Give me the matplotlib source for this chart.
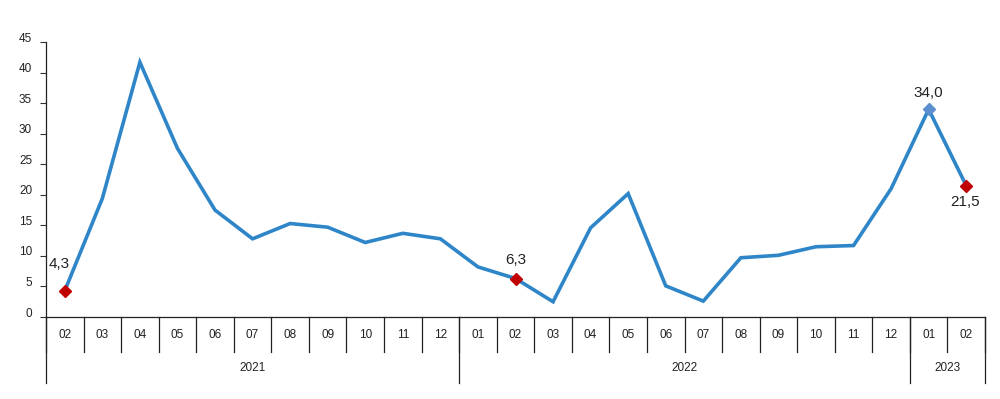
import matplotlib
matplotlib.use("Agg")
import matplotlib.pyplot as plt
import matplotlib.transforms as mtransforms

plt.rcParams['font.family'] = ['Liberation Sans', 'DejaVu Sans']

months = ["02", "03", "04", "05", "06", "07", "08", "09", "10", "11", "12",
          "01", "02", "03", "04", "05", "06", "07", "08", "09", "10", "11", "12",
          "01", "02"]
years = ["2021", "2022", "2023"]
year_counts = [11, 12, 2]
values = [4.3, 19.4, 41.7, 27.6, 17.5, 12.8, 15.3, 14.7, 12.2, 13.7, 12.8,
          8.2, 6.3, 2.5, 14.6, 20.2, 5.1, 2.6, 9.7, 10.1, 11.5, 11.7, 21.0,
          34.0, 21.5]
labels = ["4,3", "6,3", "34,0", "21,5"]
label_idx = [0, 12, 23, 24]

line_color = "#2E86C8"
red = "#C00000"
blue_pt = "#5B8FCF"

fig = plt.figure(figsize=(10, 3.99), dpi=100)
ax = fig.add_axes([0.046, 0.2055, 0.939, 0.689])

x = list(range(len(values)))
ax.plot(x, values, color=line_color, lw=2.6, solid_joinstyle='miter', zorder=2)

red_idx = [0, 12, 24]
ax.plot(red_idx, [values[i] for i in red_idx], linestyle='none', marker='D',
        color=red, markersize=6.5, zorder=3)
ax.plot([23], [values[23]], linestyle='none', marker='D', color=blue_pt,
        markersize=6.5, zorder=3)

offsets = {0: (-4, 14, 'center', 'bottom'), 12: (0, 8, 'center', 'bottom'),
           23: (0, 7, 'center', 'bottom'), 24: (-1, -7, 'center', 'top')}
for lab, i in zip(labels, label_idx):
    dx, dy, ha, va = offsets[i]
    ax.annotate(lab, (i, values[i]), xytext=(dx, dy), textcoords='offset points',
                ha=ha, va=va, fontsize=11, color='#222222')

ax.set_xlim(-0.5, len(values) - 0.5)
ax.set_ylim(0, 45)
ax.set_yticks(range(0, 46, 5))
ax.tick_params(axis='y', labelsize=8.5, colors='#333333', length=4, width=0.8, pad=6)
ax.tick_params(axis='y', labelcolor='#222222')
ax.set_xticks([])
shift = mtransforms.ScaledTranslation(0, 5 / 100, fig.dpi_scale_trans)
for lbl in ax.get_yticklabels():
    lbl.set_transform(lbl.get_transform() + shift)

for s in ['top', 'right']:
    ax.spines[s].set_visible(False)
ax.spines['left'].set_color('#222222')
ax.spines['bottom'].set_color('#222222')
ax.spines['left'].set_linewidth(0.9)
ax.spines['bottom'].set_linewidth(0.9)

trans = mtransforms.blended_transform_factory(ax.transData, ax.transAxes)
# month separators
for b in range(len(values) + 1):
    ax.plot([b - 0.5, b - 0.5], [0, -0.127], transform=trans, color='#222222',
            lw=0.9, clip_on=False)
for i, m in enumerate(months):
    ax.text(i, -0.065, m, transform=trans, ha='center', va='center',
            fontsize=8.5, color='#222222')
# year separators
bounds = [0]
for c in year_counts:
    bounds.append(bounds[-1] + c)
for b in bounds:
    ax.plot([b - 0.5, b - 0.5], [0, -0.24], transform=trans, color='#222222',
            lw=0.9, clip_on=False)
for y, s, e in zip(years, bounds[:-1], bounds[1:]):
    ax.text((s + e - 1) / 2, -0.185, y, transform=trans, ha='center', va='center',
            fontsize=8.5, color='#222222')

fig.savefig("out.png", dpi=100)
